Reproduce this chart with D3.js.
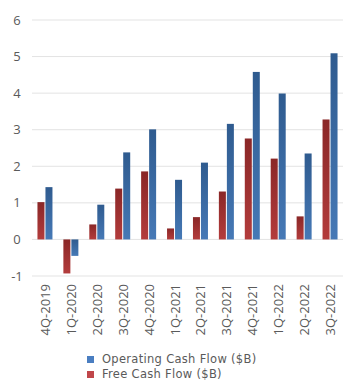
<!DOCTYPE html>
<html>
<head>
<meta charset="utf-8">
<script src="https://cdn.jsdelivr.net/npm/d3@7"></script>
<style>
  body { margin: 0; background: #fff; }
  text { font-family: "Open Sans", sans-serif; fill: #5a5a5a; }
</style>
</head>
<body>
<div id="chart"></div>
<script>
// Quarterly cash flow, $B
const quarters = ['4Q-2019', '1Q-2020', '2Q-2020', '3Q-2020', '4Q-2020', '1Q-2021',
                  '2Q-2021', '3Q-2021', '4Q-2021', '1Q-2022', '2Q-2022', '3Q-2022'];
const freeCashFlow      = [1.02, -0.93, 0.41, 1.39, 1.86, 0.30, 0.61, 1.31, 2.76, 2.21, 0.63, 3.28];
const operatingCashFlow = [1.43, -0.45, 0.95, 2.38, 3.01, 1.63, 2.10, 3.16, 4.58, 3.99, 2.35, 5.09];
const yTicks = [-1, 0, 1, 2, 3, 4, 5, 6];

const width = 354, height = 389;
const margin = { top: 20, right: 11, bottom: 113, left: 32 };

const svg = d3.select('#chart')
  .append('svg')
    .attr('width', width)
    .attr('height', height);

// Gradients for the bars
const defs = svg.append('defs');
function grad(id, top, bottom) {
  const g = defs.append('linearGradient')
    .attr('id', id)
    .attr('x1', 0).attr('y1', 0).attr('x2', 0).attr('y2', 1);
  g.append('stop').attr('offset', '0%').attr('stop-color', top);
  g.append('stop').attr('offset', '100%').attr('stop-color', bottom);
}
grad('gBlue', '#2f5b8f', '#4679b6');
grad('gRed', '#8a2727', '#b33c3c');

const x = d3.scaleBand()
  .domain(quarters)
  .range([margin.left, width - margin.right]);

const y = d3.scaleLinear()
  .domain([-1, 6])
  .range([height - margin.bottom, margin.top]);

// Gridlines
svg.append('g')
  .selectAll('line')
  .data(yTicks)
  .join('line')
    .attr('x1', margin.left)
    .attr('x2', width - margin.right)
    .attr('y1', d => y(d))
    .attr('y2', d => y(d))
    .attr('stroke', '#e3e3e3')
    .attr('stroke-width', 1);

// Y labels
svg.append('g')
  .selectAll('text')
  .data(yTicks)
  .join('text')
    .attr('x', 17)
    .attr('y', d => y(d))
    .attr('dy', '0.35em')
    .attr('text-anchor', 'middle')
    .style('font-size', '13px')
    .text(d => d);

const barW = 7;
const series = [
  { name: 'Free Cash Flow ($B)', values: freeCashFlow, fill: 'url(#gRed)', off: -barW - 0.5 },
  { name: 'Operating Cash Flow ($B)', values: operatingCashFlow, fill: 'url(#gBlue)', off: 0.5 }
];

series.forEach(s => {
  svg.append('g')
    .selectAll('rect')
    .data(quarters)
    .join('rect')
      .attr('x', (d, i) => x(d) + x.bandwidth() / 2 + s.off)
      .attr('width', barW)
      .attr('y', (d, i) => y(Math.max(0, s.values[i])))
      .attr('height', (d, i) => Math.abs(y(s.values[i]) - y(0)))
      .attr('fill', s.fill);
});

// X labels (rotated)
svg.append('g')
  .selectAll('text')
  .data(quarters)
  .join('text')
    .attr('transform', d => `translate(${x(d) + x.bandwidth() / 2 + 5},284) rotate(-90)`)
    .attr('text-anchor', 'end')
    .style('font-size', '13px')
    .text(d => d);

// Legend
const legend = [
  { name: 'Operating Cash Flow ($B)', color: '#4a7ec1' },
  { name: 'Free Cash Flow ($B)', color: '#c0464a' }
];
const lg = svg.append('g')
  .selectAll('g')
  .data(legend)
  .join('g')
    .attr('transform', (d, i) => `translate(87,${356 + i * 15})`);
lg.append('rect')
  .attr('width', 7).attr('height', 7)
  .attr('fill', d => d.color);
lg.append('text')
  .attr('x', 15)
  .attr('y', 7)
  .style('font-family', '"DejaVu Sans", sans-serif')
  .style('font-size', '11.5px')
  .style('letter-spacing', '0.3px')
  .text(d => d.name);
</script>
</body>
</html>
